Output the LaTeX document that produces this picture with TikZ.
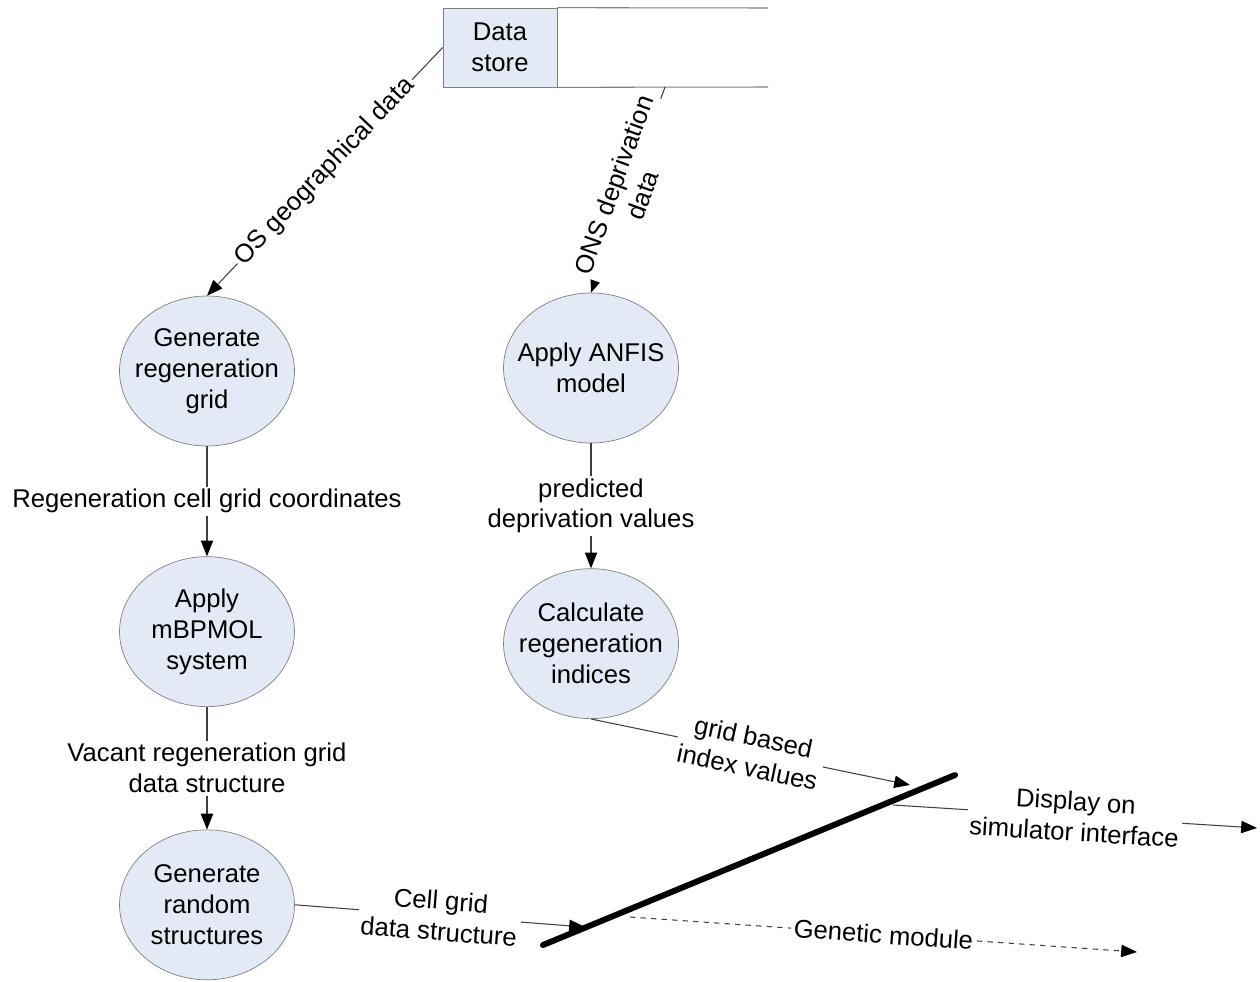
\documentclass[tikz,border=0pt]{standalone}
\usepackage{fontspec}
\setmainfont{Liberation Sans}
\usepackage{tikz}
\usetikzlibrary{arrows.meta,positioning,calc,shapes.geometric}
\definecolor{procfill}{RGB}{227,234,246}
\definecolor{procdraw}{gray}{0.5}
\definecolor{flowgray}{gray}{0.25}

\begin{document}
\begin{tikzpicture}[
  x=0.02cm, y=-0.02cm,
  font=\fontsize{14.6}{17.6}\selectfont,
  process/.style={ellipse, draw=procdraw, fill=procfill, minimum width=3.5cm, minimum height=3cm, inner xsep=-8pt, inner ysep=0pt, align=center},
  datastore/.style={draw=procdraw, fill=procfill, minimum width=2.28cm, minimum height=1.58cm, align=center},
  flowlabel/.style={fill=white, text=black, inner sep=1.5pt, align=center},
  arr/.style={-{Triangle[length=9pt,width=7pt,black]}, line width=0.6pt, color=flowgray},
]
  \useasboundingbox (0,0) rectangle (1260,981);

  % data store
  \node[datastore] (ds) at (500,47.5) {Data\\store};
  \draw[procdraw, line width=0.6pt] (ds.north east) -- (768,8);
  \draw[procdraw, line width=0.6pt] (ds.south east) -- (768,87);

  % left column
  \node[process] (gen) at (207,371) {Generate\\regeneration\\grid};
  \node[process, below=2.2cm of gen] (mbp) {Apply\\mBPMOL\\system};
  \node[process, below=2.45cm of mbp] (rand) {Generate\\random\\structures};

  % right column
  \node[process] (anfis) at (591,368) {Apply ANFIS\\model};
  \node[process, below=2.5cm of anfis] (calc) {Calculate\\regeneration\\indices};

  % terminator bar
  \coordinate (barL) at (543,945);
  \coordinate (barR) at (955,775);
  \draw[line width=3.4pt, line cap=round] (barL) -- (barR);

  \coordinate (onsin) at (665,87);
  \coordinate (cellin) at (585,927);
  \coordinate (gridin) at (910,785);
  \coordinate (dispout) at (893,805);
  \coordinate (dispend) at (1257,828);
  \coordinate (genout) at (630,917);
  \coordinate (genend) at (1137,952);

  % flows
  \draw[arr] (ds.west) -- node[flowlabel, sloped] {OS geographical data} (gen.north);
  \draw[arr] (onsin) -- node[flowlabel, sloped] {ONS deprivation\\data} (anfis.north);
  \draw[arr] (gen.south) -- node[flowlabel] {Regeneration cell grid coordinates} (mbp.north);
  \draw[arr] (mbp.south) -- node[flowlabel] {Vacant regeneration grid\\data structure} (rand.north);
  \draw[arr] (anfis.south) -- node[flowlabel] {predicted\\deprivation values} (calc.north);
  \draw[arr] (calc.south) -- node[flowlabel, sloped] {grid based\\index values} (gridin);
  \draw[arr] (rand.east) -- node[flowlabel, sloped] {Cell grid\\data structure} (cellin);
  \draw[arr] (dispout) -- node[flowlabel, sloped] {Display on\\simulator interface} (dispend);
  \draw[arr, dashed] (genout) -- node[flowlabel, sloped] {Genetic module} (genend);
\end{tikzpicture}
\end{document}
